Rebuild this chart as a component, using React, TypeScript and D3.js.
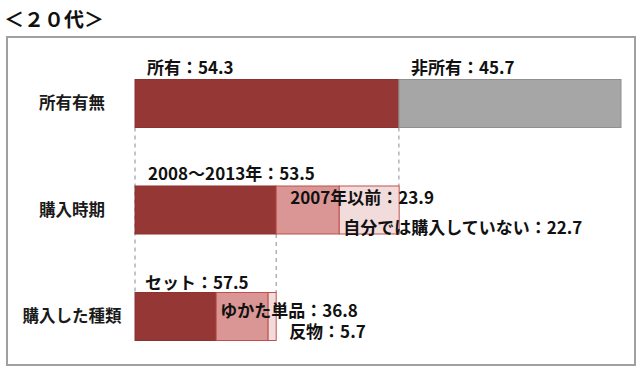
import { FC } from 'react';
import * as d3 from 'd3';

interface Segment {
  name: string;
  value: number;
}

const title = '＜２０代＞';
const rowLabels = ['所有有無', '購入時期', '購入した種類'];

const ownership: Segment[] = [
  { name: '所有', value: 54.3 },
  { name: '非所有', value: 45.7 },
];
const purchaseTime: Segment[] = [
  { name: '2008～2013年', value: 53.5 },
  { name: '2007年以前', value: 23.9 },
  { name: '自分では購入していない', value: 22.7 },
];
const purchaseType: Segment[] = [
  { name: 'セット', value: 57.5 },
  { name: 'ゆかた単品', value: 36.8 },
  { name: '反物', value: 5.7 },
];

const W = 640;
const H = 370;
const FONT = "'Noto Sans CJK JP', 'Noto Sans', sans-serif";
const barH = 48;

// label offsets per segment, relative to segment start / band centre
const labelPos = [
  [{ dx: 12, dy: -30 }, { dx: 12, dy: -30 }],
  [{ dx: 13, dy: -30 }, { dx: 14, dy: -6 }, { dx: 4, dy: 24 }],
  [{ dx: 10, dy: -28 }, { dx: 4, dy: 0.5 }, { dx: 21, dy: 21 }],
];

const fills = [
  ['#953735', '#a6a6a6'],
  ['#953735', '#d99694', '#f2dcdb'],
  ['#953735', '#d99694', '#f2dcdb'],
];
const strokes = [
  ['#8b3331', '#8f8f8f'],
  ['#8b3331', '#c0504d', '#c0504d'],
  ['#8b3331', '#c0504d', '#c0504d'],
];

const stackRow = (data: Segment[], scale: d3.ScaleLinear<number, number>) => {
  let acc = 0;
  return data.map(d => {
    const x0 = scale(acc);
    acc += d.value;
    return { ...d, x0, x1: scale(acc) };
  });
};

const App: FC = () => {
  const y = d3.scalePoint<string>().domain(rowLabels).range([103.5, 316.5]);

  // row 1 spans the full width, row 2 is the "所有" part, row 3 is the first part of row 2
  const x1 = d3.scaleLinear().domain([0, 100]).range([135, 621]);
  const x2 = d3.scaleLinear().domain([0, 100]).range([x1(0), x1(ownership[0].value)]);
  const x3 = d3.scaleLinear().domain([0, 100]).range([x2(0), x2(purchaseTime[0].value)]);

  const rows = [
    stackRow(ownership, x1),
    stackRow(purchaseTime, x2),
    stackRow(purchaseType, x3),
  ];

  const cy = rowLabels.map(r => y(r) as number);

  const guides = [
    { x: x1(0), ya: cy[0] + barH / 2, yb: cy[2] - barH / 2 },
    { x: x1(ownership[0].value), ya: cy[0] + barH / 2, yb: cy[1] - barH / 2 },
    { x: x2(purchaseTime[0].value), ya: cy[1] + barH / 2, yb: cy[2] - barH / 2 },
  ];

  return (
    <svg width={W} height={H} style={{ position: 'absolute', left: 0, top: 0, background: '#fff' }} fontFamily={FONT}>
      <text x={4} y={27} fontSize={20} fontWeight="bold" fill="#111">{title}</text>
      <rect x={7} y={37} width={628} height={328} fill="#fff" stroke="#a0a0a0" strokeWidth={2} />

      {guides.map((g, i) => (
        <line key={i} x1={g.x} x2={g.x} y1={g.ya} y2={g.yb} stroke="#8a8a8a" strokeWidth={1} strokeDasharray="4,4" />
      ))}

      {rowLabels.map((r, i) => (
        <text key={r} x={72} y={cy[i]} dy="0.35em" textAnchor="middle" fontSize={16.5} fontWeight="bold" fill="#1a1a1a">{r}</text>
      ))}

      {rows.map((segs, i) => (
        <g key={i}>
          {segs.map((s, j) => (
            <rect key={s.name} x={s.x0} y={cy[i] - barH / 2} width={s.x1 - s.x0} height={barH}
              fill={fills[i][j]} stroke={strokes[i][j]} strokeWidth={1} />
          ))}
        </g>
      ))}

      {rows.map((segs, i) => (
        <g key={'l' + i}>
          {segs.map((s, j) => (
            <text key={s.name} x={s.x0 + labelPos[i][j].dx} y={cy[i] + labelPos[i][j].dy}
              fontSize={17} fontWeight="bold" fill="#111">{`${s.name}：${s.value}`}</text>
          ))}
        </g>
      ))}
    </svg>
  );
};

export default App;
